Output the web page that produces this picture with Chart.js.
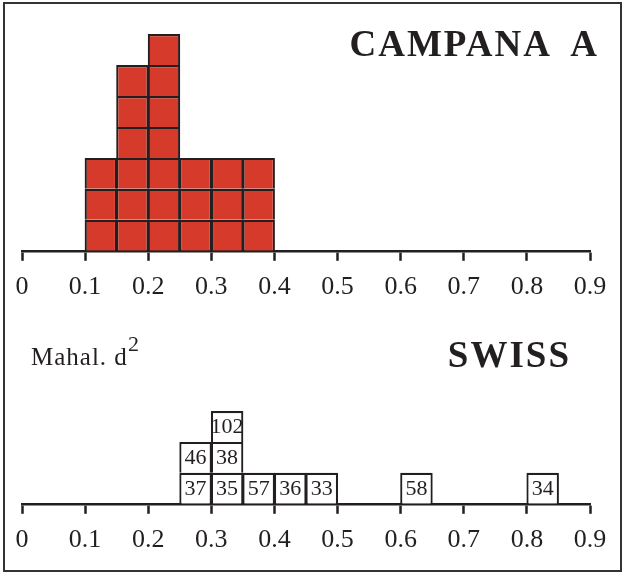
<!DOCTYPE html>
<html>
<head>
<meta charset="utf-8">
<script src="https://cdn.jsdelivr.net/npm/chart.js@4.4.0/dist/chart.umd.min.js"></script>
<style>
body { margin: 0; background: #fff; }
#wrap { position: relative; width: 623px; height: 573px; overflow: hidden; background: #fff; }
#frame { position: absolute; left: 3px; top: 2px; width: 619px; height: 570px; box-sizing: border-box; border: 2px solid #333; }
.c { position: absolute; left: 0; }
#topBox { top: 0; width: 623px; height: 314px; }
#botBox { top: 300px; width: 623px; height: 272px; }
.ttl { position: absolute; font-family: "Liberation Serif", serif; font-weight: bold; font-size: 37px; line-height: 37px; color: #231f20; letter-spacing: 2px; white-space: pre; }
#t1 { right: 24px; top: 25px; }
#t2 { right: 52px; top: 336px; }
#mahal { position: absolute; left: 31px; top: 344px; font-family: "Liberation Serif", serif; font-size: 25px; line-height: 25px; color: #231f20; letter-spacing: 1px; white-space: pre; }
#mahal sup { font-size: 22px; position: relative; top: -13px; vertical-align: top; letter-spacing: 0; }
</style>
</head>
<body>
<div id="wrap">
  <div id="frame"></div>
  <div class="c" id="topBox"><canvas id="topChart"></canvas></div>
  <div class="c" id="botBox"><canvas id="botChart"></canvas></div>
  <div class="ttl" id="t1">CAMPANA  A</div>
  <div class="ttl" id="t2">SWISS</div>
  <div id="mahal">Mahal. d<sup>2</sup></div>
</div>
<script>
// bins of width 0.05 (start value)
var bins = [0, 0.05, 0.1, 0.15, 0.2, 0.25, 0.3, 0.35, 0.4, 0.45, 0.5, 0.55, 0.6, 0.65, 0.7, 0.75, 0.8, 0.85];
var xTicks = ['0', '0.1', '0.2', '0.3', '0.4', '0.5', '0.6', '0.7', '0.8', '0.9'];

// Campana A: number of specimens per bin
var campanaCounts = [0, 0, 3, 6, 7, 3, 3, 3, 0, 0, 0, 0, 0, 0, 0, 0, 0, 0];

// Swiss: specimen numbers and the bin (d2) each falls in, bottom to top
var swissIds = ['37', '46', '35', '38', '102', '57', '36', '33', '58', '34'];
var swissD2  = [0.25, 0.25, 0.30, 0.30, 0.30, 0.35, 0.40, 0.45, 0.60, 0.80];

var ink = '#231f20';
var red = '#d53a2b';

function binIndex(v) { return Math.round(v / 0.05); }

// one dataset per layer of squares
function layersFromCounts(counts, color) {
  var max = Math.max.apply(null, counts);
  var out = [];
  for (var k = 0; k < max; k++) {
    out.push({
      data: counts.map(function (c) { return c > k ? 1 : null; }),
      backgroundColor: color
    });
  }
  return out;
}

function layersFromIds(ids, vals, color) {
  var level = {};
  var out = [];
  ids.forEach(function (id, j) {
    var b = binIndex(vals[j]);
    var k = level[b] || 0;
    level[b] = k + 1;
    if (!out[k]) {
      out[k] = { data: bins.map(function () { return null; }), boxLabels: [], backgroundColor: color };
    }
    out[k].data[b] = 1;
    out[k].boxLabels[b] = id;
  });
  return out;
}

var boxLabels = {
  id: 'boxLabels',
  afterDatasetsDraw: function (chart) {
    var ctx = chart.ctx;
    ctx.save();
    ctx.font = '22px "Liberation Serif", serif';
    ctx.fillStyle = ink;
    ctx.textAlign = 'center';
    ctx.textBaseline = 'middle';
    chart.data.datasets.forEach(function (ds, di) {
      if (!ds.boxLabels) return;
      chart.getDatasetMeta(di).data.forEach(function (el, i) {
        var lab = ds.boxLabels[i];
        if (!lab) return;
        ctx.fillText(lab, el.x, (el.y + el.base) / 2 + 1);
      });
    });
    ctx.restore();
  }
};

function makeChart(id, datasets, yMax, pad) {
  return new Chart(document.getElementById(id), {
    type: 'bar',
    data: { labels: bins, datasets: datasets },
    plugins: [boxLabels],
    options: {
      responsive: true,
      maintainAspectRatio: false,
      animation: false,
      events: [],
      layout: { padding: pad },
      datasets: {
        bar: {
          borderColor: ink,
          borderWidth: 2.2,
          categoryPercentage: 1,
          barPercentage: 1.03
        }
      },
      plugins: { legend: { display: false }, tooltip: { enabled: false } },
      scales: {
        x: { stacked: true, display: false },
        y: { stacked: true, display: false, min: 0, max: yMax },
        xv: {
          type: 'linear',
          position: 'bottom',
          min: 0,
          max: 0.9,
          offset: false,
          z: 1,
          afterBuildTicks: function (s) {
            s.ticks = xTicks.map(function (t) { return { value: parseFloat(t) }; });
          },
          ticks: {
            padding: 11,
            color: ink,
            font: { family: '"Liberation Serif", serif', size: 26 },
            callback: function (v, i) { return xTicks[i]; }
          },
          grid: { offset: false, drawOnChartArea: false, drawTicks: true, tickLength: 10, tickWidth: 2.5, tickColor: ink },
          border: { display: true, width: 2.6, color: ink }
        }
      }
    }
  });
}

makeChart('topChart', layersFromCounts(campanaCounts, red), 8, { left: 22, right: 33, top: 3, bottom: 0 });
makeChart('botChart', layersFromIds(swissIds, swissD2, '#ffffff'), 4, { left: 22, right: 33, top: 80, bottom: 5 });
</script>
</body>
</html>
